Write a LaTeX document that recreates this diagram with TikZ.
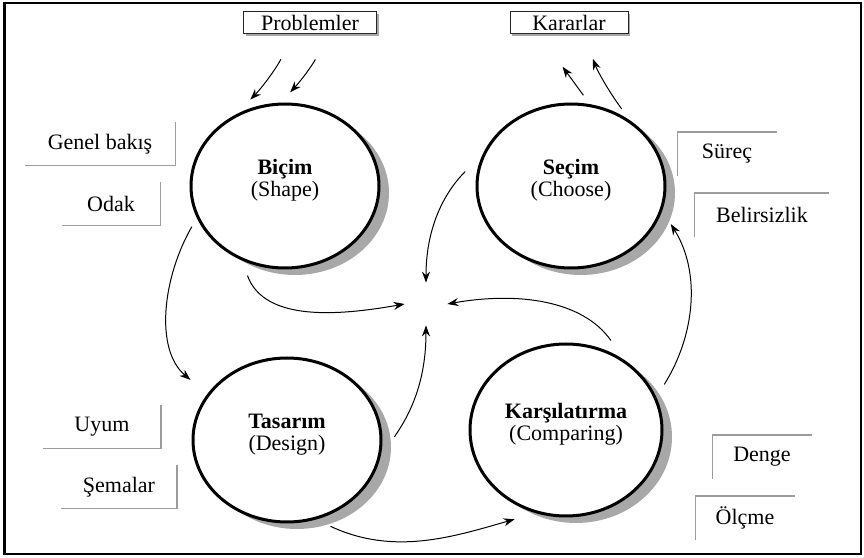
\documentclass[tikz,border=0pt]{standalone}
\usepackage{fontspec}
\setmainfont{Liberation Serif}
\usetikzlibrary{arrows.meta, shapes.geometric, shadows}
\definecolor{shadowgray}{HTML}{A8A8A8}
\definecolor{taggray}{HTML}{9C9C9C}

\begin{document}
\begin{tikzpicture}[
  x=0.5pt, y=0.5pt,
  font=\fontsize{11}{13}\selectfont,
  stage/.style  = {ellipse, draw=black, line width=1.5pt, fill=white, align=center, inner sep=0pt,
                   minimum width=94pt, minimum height=82pt, text depth=8pt,
                   drop shadow={shadow xshift=5pt, shadow yshift=-3.5pt, fill=shadowgray, opacity=1}},
  topbox/.style = {draw=black!85, line width=0.5pt, fill=white, inner sep=0pt, minimum height=11pt,
                   drop shadow={shadow xshift=1pt, shadow yshift=-1pt, fill=shadowgray, opacity=1}},
  tag/.style    = {inner sep=0pt, minimum height=21.5pt},
  tagline/.style= {draw=taggray, line width=0.6pt},
  flow/.style   = {-{Stealth[length=5.5pt, width=4pt]}, line width=0.5pt},
]
\useasboundingbox (0,0) rectangle (864,558);
\draw[line width=0.8pt] (4,4) rectangle (861,555);
\draw[line width=1.4pt] (5,4) -- (5,555);

%% ---------------------------------------------------------------- stages
\node[stage] (bicim)   at (285,372) {\textbf{Biçim}\\[-2pt](Shape)};
\node[stage] (secim)   at (571,372) {\textbf{Seçim}\\[-2pt](Choose)};
\node[stage] (tasarim) at (287,118) {\textbf{Tasarım}\\[-2pt](Design)};
\node[stage, minimum width=96pt, minimum height=86pt] (karsi) at (566,128) {\textbf{Karşılatırma}\\[-2pt](Comparing)};

%% ---------------------------------------------------------------- in / out
\node[topbox, minimum width=66.5pt] (prob)  at (310,535) {Problemler};
\node[topbox, minimum width=59pt]   (karar) at (569,535) {Kararlar};

\draw[flow, shorten <=14pt, shorten >=10pt] ([xshift=-8pt]prob.south) to[bend left=8] (bicim.124);
\draw[flow, shorten <=14pt, shorten >=7pt]  ([xshift=9pt]prob.south)  to[bend left=8] (bicim.93);
\draw[flow, shorten <=5.5pt, shorten >=20pt] (secim.77) -- ([xshift=-15pt]karar.south);
\draw[flow, shorten <=7pt, shorten >=13pt]  (secim.48) to[bend left=8] ([xshift=7.5pt]karar.south);

%% ---------------------------------------------------------------- tags
\node[tag, minimum width=75pt]   (genel)  at (100,414) {Genel bakış};
\node[tag, minimum width=49pt]   (odak)   at (111,354) {Odak};
\node[tag, minimum width=58.5pt] (uyum)   at (102,131) {Uyum};
\node[tag, minimum width=57.5pt] (semalar) at (119,71) {Şemalar};
\node[tag, minimum width=49.5pt] (surec)  at (727,404) {Süreç};
\node[tag, minimum width=67pt]   (belirs) at (762,343) {Belirsizlik};
\node[tag, minimum width=49.5pt] (denge)  at (762,101) {Denge};
\node[tag, minimum width=49.5pt] (olcme)  at (745,40)  {Ölçme};

\foreach \n in {genel, odak, uyum, semalar}
  \draw[tagline] (\n.north east) |- (\n.south west);
\foreach \n in {surec, belirs, denge, olcme}
  \draw[tagline] (\n.south west) |- (\n.north east);

%% ---------------------------------------------------------------- cycle
\node[minimum size=21pt, inner sep=0pt] (hub) at (426,254) {};

\draw[flow, shorten <=5pt, shorten >=11pt] (bicim.200) to[out=240, in=140] (tasarim.150);
\draw[flow, shorten <=8pt, shorten >=11pt] (tasarim.-70) to[out=-25, in=196] (karsi.250);
\draw[flow, shorten <=7.5pt, shorten >=8pt] (karsi.20) to[out=58, in=302] (secim.-15);

\draw[flow, shorten <=12.5pt] (secim.160)   to[out=225, in=90]  (hub.north);
\draw[flow, shorten <=8pt]    (bicim.240)   to[out=-70, in=190] (hub.west);
\draw[flow, shorten <=12pt]   (karsi.50)    to[out=125, in=10]  (hub.east);
\draw[flow, shorten <=12pt]   (tasarim.-10) to[out=55, in=270]  (hub.south);
\end{tikzpicture}
\end{document}
